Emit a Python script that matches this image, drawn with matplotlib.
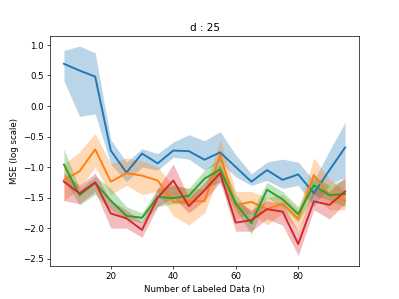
import numpy as np
import matplotlib
matplotlib.use('Agg')
import matplotlib.pyplot as plt

n = [5, 10, 15, 20, 25, 30, 35, 40, 45, 50, 55, 60, 65, 70, 75, 80, 85, 90, 95]

blue_mean = [0.69, 0.58, 0.48, -0.73, -1.09, -0.78, -0.94, -0.73, -0.74, -0.88, -0.76,
             -1.00, -1.24, -1.05, -1.21, -1.12, -1.43, -1.05, -0.68]
blue_hi = [0.91, 0.98, 0.87, -0.55, -0.92, -0.70, -0.78, -0.59, -0.47, -0.57, -0.42,
           -0.80, -1.11, -0.92, -0.87, -0.92, -1.22, -0.73, -0.27]
blue_lo = [0.41, -0.17, -0.13, -0.95, -1.24, -1.00, -1.05, -0.84, -0.87, -1.05, -0.92,
           -1.16, -1.30, -1.22, -1.35, -1.30, -1.65, -1.30, -1.16]

orange_mean = [-1.21, -1.07, -0.71, -1.24, -1.10, -1.14, -1.22, -1.57, -1.56, -1.56, -0.80,
               -1.62, -1.57, -1.69, -1.60, -1.85, -1.13, -1.46, -1.55]
orange_hi = [-0.95, -0.75, -0.45, -0.95, -0.85, -0.90, -1.00, -1.30, -1.35, -1.35, -0.55,
             -1.40, -1.40, -1.50, -1.45, -1.70, -0.85, -1.20, -1.40]
orange_lo = [-1.55, -1.35, -1.00, -1.45, -1.30, -1.45, -1.40, -1.80, -1.95, -1.75, -1.10,
             -1.85, -1.75, -1.95, -1.75, -2.05, -1.45, -1.70, -1.70]

green_mean = [-0.96, -1.46, -1.26, -1.55, -1.80, -1.83, -1.49, -1.51, -1.47, -1.19, -1.04,
              -1.60, -1.92, -1.37, -1.53, -1.77, -1.30, -1.46, -1.44]
green_hi = [-0.70, -1.35, -1.15, -1.35, -1.65, -1.75, -1.35, -1.30, -1.35, -1.05, -0.85,
            -1.45, -1.75, -1.25, -1.40, -1.65, -1.15, -1.30, -1.20]
green_lo = [-1.20, -1.62, -1.45, -1.70, -1.85, -1.92, -1.65, -1.60, -1.60, -1.35, -1.25,
            -1.70, -2.10, -1.50, -1.65, -1.90, -1.45, -1.55, -1.65]

red_mean = [-1.24, -1.43, -1.25, -1.76, -1.84, -2.03, -1.50, -1.22, -1.64, -1.38, -1.10,
            -1.91, -1.87, -1.69, -1.73, -2.26, -1.56, -1.62, -1.40]
red_hi = [-1.10, -1.30, -1.10, -1.55, -1.70, -1.90, -1.35, -0.95, -1.50, -1.25, -0.95,
          -1.55, -1.70, -1.55, -1.60, -2.05, -1.35, -1.40, -1.15]
red_lo = [-1.55, -1.60, -1.40, -2.00, -2.00, -2.15, -1.65, -1.50, -1.75, -1.55, -1.25,
          -2.05, -2.05, -1.85, -1.95, -2.45, -1.70, -1.85, -1.60]

series = [
    (blue_mean, blue_lo, blue_hi, 'tab:blue'),
    (orange_mean, orange_lo, orange_hi, 'tab:orange'),
    (green_mean, green_lo, green_hi, 'tab:green'),
    (red_mean, red_lo, red_hi, 'tab:red'),
]

fig = plt.figure(figsize=(6.4, 4.8), dpi=62.35)
for mean, lo, hi, c in series:
    plt.plot(n, mean, color=c, linewidth=2.2)
    plt.fill_between(n, lo, hi, color=c, alpha=0.3, linewidth=0)

plt.title('d : 25')
plt.xlabel('Number of Labeled Data (n)')
plt.ylabel('MSE (log scale)')
plt.savefig('out.png', dpi=62.35)
